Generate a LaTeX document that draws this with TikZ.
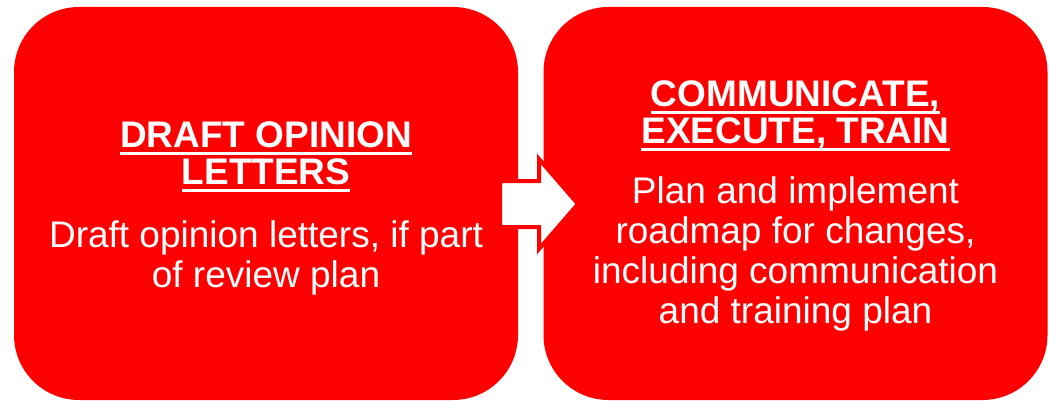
\documentclass[tikz,border=0pt]{standalone}
\usepackage{fontspec}
\setmainfont{Liberation Sans}
\newcommand{\ulbar}[1]{\setbox0\hbox{#1}\rlap{\rule[-3.75pt]{\wd0}{1.5pt}}\box0}
\tikzset{
  stage/.style={fill=red, rounded corners=32.5pt, minimum width=252pt, minimum height=196.5pt, inner sep=0pt},
  head/.style={text=white, align=center, inner sep=0pt, anchor=north, font=\fontsize{18.5}{18.5}\selectfont\bfseries},
  body/.style={text=white, align=center, inner sep=0pt, anchor=north, font=\fontsize{18.5}{20}\selectfont}
}
\begin{document}
\begin{tikzpicture}[x=0.5pt,y=-0.5pt]
        \useasboundingbox (0,0) rectangle (1049,401);
        \node[stage] (A) at (266,203.5) {};
        \node[stage] (B) at (795.5,203.5) {};

        \node[head] (AT) at (266,121) {\ulbar{DRAFT OPINION}\\\ulbar{LETTERS}};
        \node[body] (AB) at (266,220) {Draft opinion letters, if part\\of review plan};

        \node[head] (BT) at (795.5,80) {\ulbar{COMMUNICATE,}\\\ulbar{EXECUTE, TRAIN}};
        \node[body] (BB) at (795.5,176) {Plan and implement\\roadmap for changes,\\including communication\\and training plan};

        % block arrow over the gap
        \draw[fill=white, draw=red, line width=2pt, miter limit=10] (500,181) -- (539,181) -- (539,159) -- (578,204) -- (539,249) -- (539,227) -- (500,227) -- cycle;
      \end{tikzpicture}
\end{document}
